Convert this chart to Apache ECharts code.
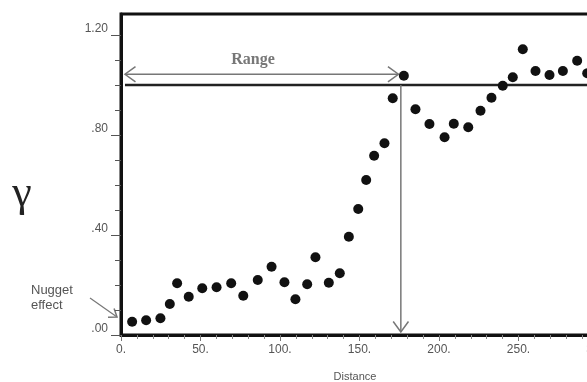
<!DOCTYPE html>
<html>
<head>
<meta charset="utf-8">
<script src="https://cdn.jsdelivr.net/npm/echarts@6/dist/echarts.min.js"></script>
<style>
  html, body { margin: 0; padding: 0; background: #fff; }
  #chart { width: 587px; height: 382px; }
</style>
</head>
<body>
<div id="chart"></div>
<script>
// semivariogram points: lag distance / gamma
const distances = [7.0, 15.8, 24.8, 30.7, 35.3, 42.6, 51.1, 60.1, 69.3, 76.9,
  86.0, 94.7, 102.8, 109.7, 117.1, 122.3, 130.7, 137.6, 143.3, 149.2,
  154.2, 159.2, 165.7, 170.9, 177.9, 185.2, 194.0, 203.5, 209.3, 218.4,
  226.1, 233.0, 240.1, 246.4, 252.7, 260.7, 269.5, 277.9, 286.9, 293.2];
const gammas = [0.053, 0.059, 0.067, 0.124, 0.207, 0.153, 0.187, 0.191, 0.207, 0.157,
  0.220, 0.273, 0.211, 0.143, 0.203, 0.311, 0.209, 0.247, 0.393, 0.504,
  0.620, 0.717, 0.767, 0.947, 1.037, 0.903, 0.844, 0.791, 0.845, 0.831,
  0.897, 0.949, 0.997, 1.031, 1.143, 1.056, 1.040, 1.056, 1.097, 1.047];

const yLabelValues = [0, 0.4, 0.8, 1.2];
const yMinorValues = [0, 0.1, 0.2, 0.3, 0.4, 0.5, 0.6, 0.7, 0.8, 0.9, 1.0, 1.1, 1.2];

const sill = 1.0;
const rangeDist = 176;
const rangeArrowY = 1.043;
const rangeArrowStart = 2.5;

const chart = echarts.init(document.getElementById('chart'), null, { renderer: 'canvas' });

const labelColor = '#555';
const font = 'Liberation Sans, Arial, sans-serif';

chart.setOption({
  animation: false,
  grid: {
    left: 121, top: 14, width: 477, height: 321,
    outerBoundsMode: 'none', containLabel: false,
    show: true, borderColor: '#111', borderWidth: 3, backgroundColor: 'transparent'
  },
  xAxis: {
    type: 'value', min: 0, max: 300, interval: 50,
    axisLine: { lineStyle: { color: '#111', width: 3 } },
    axisTick: { length: 6, lineStyle: { color: '#777' } },
    minorTick: { show: true, splitNumber: 5, length: 4, lineStyle: { color: '#888' } },
    splitLine: { show: false },
    axisLabel: {
      color: labelColor, fontFamily: font, fontSize: 12, margin: 9,
      formatter: v => v + '.'
    }
  },
  yAxis: [{
    type: 'value', min: 0, max: 1.284,
    axisLine: { show: true, lineStyle: { color: '#111', width: 3 } },
    axisTick: { customValues: yMinorValues, length: 6, lineStyle: { color: '#555' } },
    splitLine: { show: false },
    axisLabel: {
      customValues: yLabelValues, color: labelColor, fontFamily: font, fontSize: 12, margin: 13,
      verticalAlign: 'bottom',
      formatter: v => v.toFixed(2).replace(/^0/, '')
    }
  }, {
    type: 'value', min: 0, max: 1.284, position: 'left',
    axisLine: { show: false },
    axisTick: { customValues: yLabelValues, length: 10, lineStyle: { color: '#555' } },
    axisLabel: { show: false },
    splitLine: { show: false }
  }],
  series: [{
    type: 'scatter',
    symbolSize: 10,
    itemStyle: { color: '#111', opacity: 1 },
    data: distances.map((d, i) => [d, gammas[i]])
  }]
});

// annotations positioned through the axes
const px = (x, y) => chart.convertToPixel({ gridIndex: 0 }, [x, y]);
const sillA = px(2.5, sill), sillB = px(300, sill);
const rA = px(rangeArrowStart, rangeArrowY), rB = px(rangeDist - 1.5, rangeArrowY);
const vTop = px(rangeDist, sill), vBot = px(rangeDist, 0.012);
const grey = '#777';

function chevron(tip, dx, dy, len) {
  // open arrow head with tip at `tip`, pointing along (dx,dy)
  const n = Math.hypot(dx, dy); dx /= n; dy /= n;
  const a = Math.PI / 5;
  const p1 = [tip[0] - len * (dx * Math.cos(a) - dy * Math.sin(a)), tip[1] - len * (dy * Math.cos(a) + dx * Math.sin(a))];
  const p2 = [tip[0] - len * (dx * Math.cos(a) + dy * Math.sin(a)), tip[1] - len * (dy * Math.cos(a) - dx * Math.sin(a))];
  return { type: 'polyline', shape: { points: [p1, tip, p2] }, style: { stroke: grey, lineWidth: 1.5, fill: null } };
}

const nugTip = [117, 317], nugTail = [90, 298];

chart.setOption({
  graphic: [
    { type: 'line', shape: { x1: sillA[0], y1: sillA[1], x2: sillB[0], y2: sillB[1] }, style: { stroke: '#222', lineWidth: 2.5 } },
    { type: 'line', shape: { x1: rA[0], y1: rA[1], x2: rB[0], y2: rB[1] }, style: { stroke: grey, lineWidth: 1.5 } },
    chevron(rA, -1, 0, 13),
    chevron(rB, 1, 0, 13),
    { type: 'line', shape: { x1: vTop[0], y1: vTop[1], x2: vBot[0], y2: vBot[1] }, style: { stroke: grey, lineWidth: 1.5 } },
    chevron(vBot, 0, 1, 13),
    { type: 'line', shape: { x1: nugTail[0], y1: nugTail[1], x2: nugTip[0], y2: nugTip[1] }, style: { stroke: grey, lineWidth: 1.2 } },
    chevron(nugTip, nugTip[0] - nugTail[0], nugTip[1] - nugTail[1], 9),
    { type: 'text', x: 253, y: 60, style: { text: 'Range', fill: '#777', font: 'bold 16px Liberation Serif, serif', align: 'center', verticalAlign: 'middle' } },
    { type: 'text', x: 22, y: 194, style: { text: 'γ', fill: '#222', font: '44px Liberation Serif, serif', align: 'center', verticalAlign: 'middle' } },
    { type: 'text', x: 31, y: 283, style: { text: 'Nugget\neffect', fill: '#555', font: '13px Liberation Sans, Arial, sans-serif', lineHeight: 15, align: 'left', verticalAlign: 'top' } },
    { type: 'text', x: 355, y: 377, style: { text: 'Distance', fill: '#555', font: '11px Liberation Sans, Arial, sans-serif', align: 'center', verticalAlign: 'middle' } }
  ]
});
</script>
</body>
</html>
